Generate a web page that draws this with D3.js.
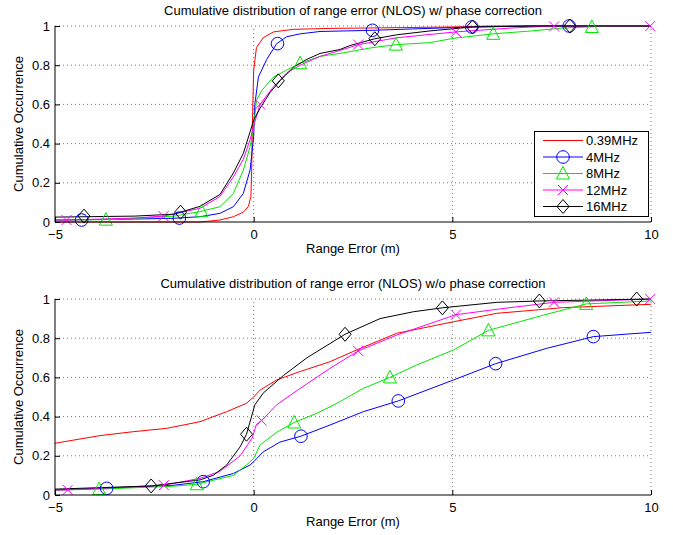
<!DOCTYPE html>
<html><head><meta charset="utf-8">
<script src="https://cdn.jsdelivr.net/npm/d3@7"></script>
<style>body{margin:0;background:#fff;} text{font-family:"Liberation Sans",Arial,Helvetica,sans-serif;}</style>
</head><body><svg id="c" width="673" height="535"></svg>
<script>
const seriesNames = ["0.39MHz","4MHz","8MHz","12MHz","16MHz"];
const colors = ["#ff0000","#0000ff","#00e600","#ff00ff","#000000"];
const markerTypes = ["none","circle","triangle","x","diamond"];
const xTicks = [-5,0,5,10];
const yTicks = [0,0.2,0.4,0.6,0.8,1];
const titles = ["Cumulative distribution of range error (NLOS) w/ phase correction",
                "Cumulative distribution of range error (NLOS) w/o phase correction"];

// top: with phase correction
const topRed = [[-5,0],[-2,0],[-1.35,0],[-0.85,0.01],[-0.51,0.027],[-0.26,0.05],[-0.13,0.08],[-0.07,0.13],[-0.05,0.265],[-0.03,0.52],[0,0.775],[0.07,0.89],[0.24,0.94],[0.5,0.97],[1.0,0.983],[2,0.988],[3,0.99],[5,0.995],[6,1],[10,1]];
const topBlue = [[-5,0.01],[-3,0.015],[-2,0.019],[-1.35,0.027],[-0.85,0.044],[-0.51,0.078],[-0.26,0.146],[-0.09,0.265],[0,0.435],[0.03,0.6],[0.12,0.74],[0.33,0.83],[0.58,0.91],[0.83,0.945],[1.17,0.96],[1.67,0.972],[3,0.978],[4,0.985],[5.5,0.995],[7,1],[10,1]];
const topGreen = [[-5,0.01],[-3.7,0.012],[-2,0.03],[-1.35,0.053],[-0.85,0.078],[-0.51,0.146],[-0.26,0.265],[-0.09,0.384],[0,0.486],[0.07,0.62],[0.2,0.67],[0.5,0.74],[0.83,0.775],[1.17,0.81],[1.67,0.845],[2.17,0.86],[3.0,0.89],[3.6,0.905],[4.44,0.915],[5.02,0.937],[6.03,0.96],[7.0,0.975],[7.8,0.99],[9,1],[10,1]];
const topMag = [[-5,0.01],[-4.7,0.01],[-3,0.02],[-2.27,0.03],[-1.35,0.07],[-0.85,0.13],[-0.51,0.23],[-0.26,0.32],[-0.09,0.42],[0,0.49],[0.16,0.6],[0.5,0.69],[0.83,0.76],[1.17,0.8],[1.67,0.845],[2.17,0.875],[2.63,0.905],[3.6,0.94],[5.09,0.97],[6.5,0.99],[7.56,1],[10,1]];
const topBlack = [[-5,0.025],[-3,0.03],[-2,0.04],[-1.84,0.05],[-1.35,0.08],[-0.85,0.14],[-0.51,0.25],[-0.26,0.35],[-0.09,0.46],[0,0.52],[0.16,0.58],[0.41,0.66],[0.66,0.72],[1.0,0.79],[1.34,0.83],[1.67,0.86],[2.17,0.88],[2.42,0.9],[3.05,0.935],[3.6,0.955],[4.44,0.975],[5.51,0.995],[7,1],[10,1]];
const topMarkBlue = [[-4.33,0.01],[-1.87,0.02],[0.6,0.91],[2.99,0.978],[5.49,0.995],[7.94,1]];
const topMarkGreen = [[-3.72,0.012],[-1.31,0.055],[1.17,0.81],[3.58,0.905],[6.03,0.96],[8.51,0.995]];
const topMarkMag = [[-4.71,0.01],[-2.27,0.03],[0.16,0.6],[2.63,0.905],[5.09,0.97],[7.56,0.998],[9.98,1]];
const topMarkBlack = [[-4.27,0.03],[-1.84,0.05],[0.62,0.72],[3.05,0.935],[5.51,0.995],[7.96,1]];

// bottom: without phase correction
const botRed = [[-5,0.264],[-3.87,0.303],[-3.03,0.323],[-2.19,0.34],[-1.35,0.374],[-0.68,0.425],[-0.18,0.468],[0,0.5],[0.16,0.535],[0.58,0.587],[1.17,0.63],[1.92,0.68],[2.59,0.74],[3.6,0.825],[5.03,0.884],[6.12,0.927],[7.8,0.956],[10,0.973]];
const botBlue = [[-5,0.026],[-3.7,0.034],[-2,0.05],[-1.27,0.068],[-0.51,0.11],[-0.09,0.153],[0,0.17],[0.24,0.22],[0.66,0.27],[1.19,0.3],[1.92,0.357],[2.76,0.425],[3.64,0.48],[5.03,0.587],[6.09,0.67],[7.37,0.748],[8.55,0.808],[10,0.83]];
const botGreen = [[-5,0.025],[-3.89,0.03],[-2,0.045],[-1.43,0.055],[-0.51,0.1],[-0.18,0.153],[0,0.187],[0.16,0.255],[0.58,0.32],[1.02,0.37],[1.59,0.417],[1.92,0.45],[2.17,0.476],[2.76,0.544],[3.43,0.6],[4.1,0.663],[5.03,0.74],[5.91,0.84],[7.3,0.918],[8.37,0.975],[10,0.99]];
const botMag = [[-5,0.025],[-4.68,0.026],[-2.26,0.05],[-1.35,0.085],[-0.85,0.12],[-0.34,0.2],[-0.04,0.29],[0.07,0.36],[0.2,0.38],[0.58,0.46],[1.17,0.544],[1.92,0.646],[2.63,0.735],[3.6,0.816],[5.09,0.92],[6.3,0.952],[7.56,0.983],[10,1]];
const botBlack = [[-5,0.03],[-2.58,0.046],[-1.35,0.077],[-1.02,0.1],[-0.68,0.153],[-0.34,0.246],[-0.18,0.31],[0.03,0.46],[0.24,0.52],[0.75,0.61],[1.34,0.7],[2.3,0.82],[3.18,0.9],[4.02,0.935],[4.75,0.955],[6.12,0.983],[7.19,0.99],[10,1]];
const botMarkBlue = [[-3.7,0.034],[-1.27,0.068],[1.19,0.3],[3.64,0.48],[6.09,0.67],[8.55,0.808]];
const botMarkGreen = [[-3.89,0.03],[-1.43,0.055],[1.02,0.37],[3.43,0.6],[5.91,0.84],[8.37,0.975]];
const botMarkMag = [[-4.68,0.026],[-2.26,0.05],[0.2,0.38],[2.63,0.735],[5.09,0.92],[7.56,0.983],[9.98,1]];
const botMarkBlack = [[-2.58,0.046],[-0.18,0.31],[2.3,0.82],[4.75,0.955],[7.19,0.99],[9.64,1]];

const panels = [
  {top:26, bottom:222, title:titles[0], lines:[topRed,topBlue,topGreen,topMag,topBlack],
   marks:[[],topMarkBlue,topMarkGreen,topMarkMag,topMarkBlack], legend:true},
  {top:299, bottom:495, title:titles[1], lines:[botRed,botBlue,botGreen,botMag,botBlack],
   marks:[[],botMarkBlue,botMarkGreen,botMarkMag,botMarkBlack], legend:false}
];

const svg = d3.select("#c");
const x = d3.scaleLinear().domain([-5,10]).range([55,651]);
const FS = 13;

function drawMarker(g, type, cx, cy, color){
  if(type==="circle") g.append("circle").attr("cx",cx).attr("cy",cy).attr("r",6.3).attr("fill","none").attr("stroke",color).attr("stroke-width",1);
  else if(type==="triangle") g.append("path").attr("d",`M${cx},${cy-7}L${cx+6.5},${cy+5.5}L${cx-6.5},${cy+5.5}Z`).attr("fill","none").attr("stroke",color).attr("stroke-width",1);
  else if(type==="diamond") g.append("path").attr("d",`M${cx},${cy-7}L${cx+6},${cy}L${cx},${cy+7}L${cx-6},${cy}Z`).attr("fill","none").attr("stroke",color).attr("stroke-width",1);
  else if(type==="x") g.append("path").attr("d",`M${cx-5},${cy-5}L${cx+5},${cy+5}M${cx-5},${cy+5}L${cx+5},${cy-5}`).attr("fill","none").attr("stroke",color).attr("stroke-width",1);
}

panels.forEach(p=>{
  const y = d3.scaleLinear().domain([0,1]).range([p.bottom,p.top]);
  const g = svg.append("g");
  // grid
  g.selectAll(".gx").data(xTicks.filter(t=>t!==-5)).enter().append("line")
    .attr("x1",d=>x(d)).attr("x2",d=>x(d)).attr("y1",p.bottom).attr("y2",p.top)
    .attr("stroke","#555").attr("stroke-width",0.8).attr("stroke-dasharray","1,3");
  g.selectAll(".gy").data(yTicks.filter(t=>t!==0)).enter().append("line")
    .attr("x1",55).attr("x2",651).attr("y1",d=>y(d)).attr("y2",d=>y(d))
    .attr("stroke","#555").attr("stroke-width",0.8).attr("stroke-dasharray","1,3");
  // lines
  const line = d3.line().x(d=>x(d[0])).y(d=>y(d[1]));
  p.lines.forEach((data,i)=>{
    g.append("path").datum(data).attr("d",line).attr("fill","none").attr("stroke",colors[i]).attr("stroke-width",1);
  });
  p.marks.forEach((m,i)=>{
    m.forEach(d=>drawMarker(g, markerTypes[i], x(d[0]), y(d[1]), colors[i]));
  });
  // axes
  const ax = g.append("g").attr("transform",`translate(0,${p.bottom})`)
    .call(d3.axisBottom(x).tickValues(xTicks).tickSize(-5).tickPadding(8).tickFormat(d=>d<0?"\u2212"+Math.abs(d):d));
  const ay = g.append("g").attr("transform",`translate(55,0)`)
    .call(d3.axisLeft(y).tickValues(yTicks).tickSize(-5).tickPadding(5).tickFormat(d=>d===0||d===1?String(d):d3.format(".1f")(d)));
  [ax,ay].forEach(a=>{
    a.select(".domain").attr("stroke","#000").attr("stroke-width",1);
    a.selectAll(".tick line").attr("stroke","#000");
    a.selectAll("text").attr("font-size",FS).attr("fill","#000").attr("font-family","Liberation Sans, Arial, sans-serif");
  });
  ax.select(".domain").attr("d",`M55,0H651`);
  ay.select(".domain").attr("d",`M0,${p.bottom}V${p.top}`);
  // titles
  g.append("text").attr("x",353).attr("y",p.top-11).attr("text-anchor","middle").attr("font-size",FS).text(p.title);
  g.append("text").attr("x",353).attr("y",p.bottom+31).attr("text-anchor","middle").attr("font-size",FS).text("Range Error (m)");
  g.append("text").attr("transform",`translate(23,${(p.top+p.bottom)/2}) rotate(-90)`).attr("text-anchor","middle").attr("font-size",FS).text("Cumulative Occurrence");
  if(p.legend){
    const lg = g.append("g");
    lg.append("rect").attr("x",534.5).attr("y",131.5).attr("width",114).attr("height",85).attr("fill","#fff").attr("stroke","#000").attr("stroke-width",1);
    seriesNames.forEach((n,i)=>{
      const ly = 140.5 + i*16.5;
      lg.append("line").attr("x1",543).attr("x2",583).attr("y1",ly).attr("y2",ly).attr("stroke",colors[i]).attr("stroke-width",1);
      drawMarker(lg, markerTypes[i], 563, ly, colors[i]);
      lg.append("text").attr("x",586).attr("y",ly+4.5).attr("font-size",FS).text(n);
    });
  }
});
</script></body></html>
